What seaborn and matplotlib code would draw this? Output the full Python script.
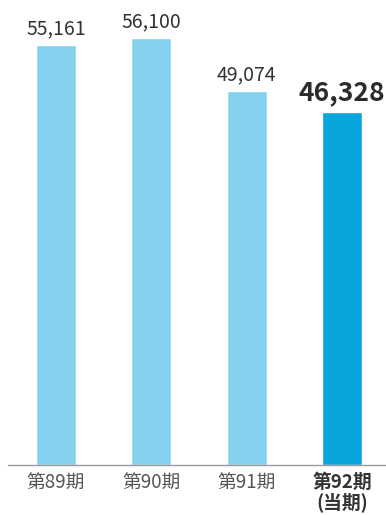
import matplotlib
matplotlib.use("Agg")
import matplotlib.pyplot as plt
import seaborn as sns
import pandas as pd

categories = ["第89期", "第90期", "第91期", "第92期\n(当期)"]
values = [55161, 56100, 49074, 46328]
value_labels = ["55,161", "56,100", "49,074", "46,328"]
colors = ["#84D1EE", "#84D1EE", "#84D1EE", "#09A6DE"]

sns.set_theme(style="white")
plt.rcParams["font.family"] = ["Noto Sans CJK JP", "DejaVu Sans"]

df = pd.DataFrame({"cat": categories, "val": values})

fig = plt.figure(figsize=(3.86, 5.15), dpi=100)
ax = fig.add_axes([8/386, (515-465)/515, 378/386, 465/515])
sns.barplot(data=df, x="cat", y="val", hue="cat", palette=colors, width=0.42,
            legend=False, ax=ax, saturation=1)

ax.set_xlim(-0.504, 3.46)
ax.set_ylim(0, 61024)
for s in ["top", "right", "left"]:
    ax.spines[s].set_visible(False)
ax.spines["bottom"].set_color("#9a9a9a")
ax.spines["bottom"].set_linewidth(1.0)
ax.set_yticks([])
ax.set_xlabel("")
ax.set_ylabel("")
ax.tick_params(axis="x", length=0, pad=6, labelsize=13.5, colors="#555555")
for i, t in enumerate(ax.get_xticklabels()):
    t.set_linespacing(1.0)
    if i == 3:
        t.set_fontweight("bold")
        t.set_color("#333333")

for i, (v, lab) in enumerate(zip(values, value_labels)):
    if i == 3:
        ax.annotate(lab, (i, v), xytext=(0, 4), textcoords="offset points",
                    ha="center", va="bottom", fontsize=19, fontweight="bold", color="#2b2b2b")
    else:
        ax.annotate(lab, (i, v), xytext=(0, 4), textcoords="offset points",
                    ha="center", va="bottom", fontsize=14, color="#333333")

fig.savefig("out.png", dpi=100)
